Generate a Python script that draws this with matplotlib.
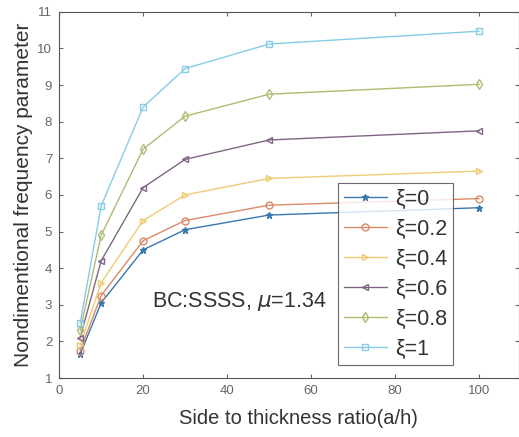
import matplotlib
matplotlib.use("Agg")
import matplotlib.pyplot as plt

plt.rcParams['font.family'] = ['Liberation Sans', 'DejaVu Sans']

ratios = [5, 10, 20, 30, 50, 100]
labels = ['ξ=0', 'ξ=0.2', 'ξ=0.4', 'ξ=0.6', 'ξ=0.8', 'ξ=1']
xi0 = [1.65, 3.05, 4.5, 5.05, 5.45, 5.65]
xi02 = [1.75, 3.25, 4.75, 5.3, 5.72, 5.9]
xi04 = [1.9, 3.6, 5.3, 6.0, 6.45, 6.65]
xi06 = [2.1, 4.2, 6.2, 6.97, 7.5, 7.75]
xi08 = [2.3, 4.9, 7.25, 8.15, 8.75, 9.02]
xi1 = [2.5, 5.7, 8.4, 9.45, 10.12, 10.47]
series = [xi0, xi02, xi04, xi06, xi08, xi1]

colors = ['#3A76AE', '#DB8A68', '#EFCB74', '#806585', '#AEBC72', '#86CCE8']
markers = ['*', 'o', '>', '<', 'd', 's']

fig = plt.figure(figsize=(5.19, 4.37), dpi=100)
ax = fig.add_axes([0.114, 0.135, 0.886, 0.838])
for ys, c, m, lab in zip(series, colors, markers, labels):
    ax.plot(ratios, ys, color=c, marker=m, markersize=5,
            markerfacecolor='none' if m != '*' else c,
            linewidth=1.0, label=lab)

ax.set_xlim(0, 109.5)
ax.set_ylim(1, 11)
ax.set_xticks([0, 20, 40, 60, 80, 100])
ax.set_yticks(range(1, 12))
ax.tick_params(direction='in', labelsize=9.5, colors='#666666', length=3, top=True, right=True, pad=5)
for s in ax.spines.values():
    s.set_color('#555555')
    s.set_linewidth(0.8)
ax.set_xlabel('Side to thickness ratio(a/h)', fontsize=14.5, color='#333333', labelpad=5)
ax.xaxis.set_label_coords(0.52, -0.085)
ax.set_ylabel('Nondimentional frequency parameter', fontsize=15, color='#333333', labelpad=3)
ax.text(22, 3.1, 'BC:SSSS, $\\mu$=1.34', fontsize=15.5, color='#333333', va='center')
leg = ax.legend(loc='upper left', bbox_to_anchor=(0.607, 0.532), fontsize=15.5, frameon=True,
                fancybox=False, edgecolor='#444444', handlelength=2.0, labelspacing=0.42,
                borderpad=0.25, handletextpad=0.4, borderaxespad=0)
leg.get_frame().set_linewidth(0.8)
for t in leg.get_texts():
    t.set_color('#333333')
fig.savefig('out.png', dpi=100)
